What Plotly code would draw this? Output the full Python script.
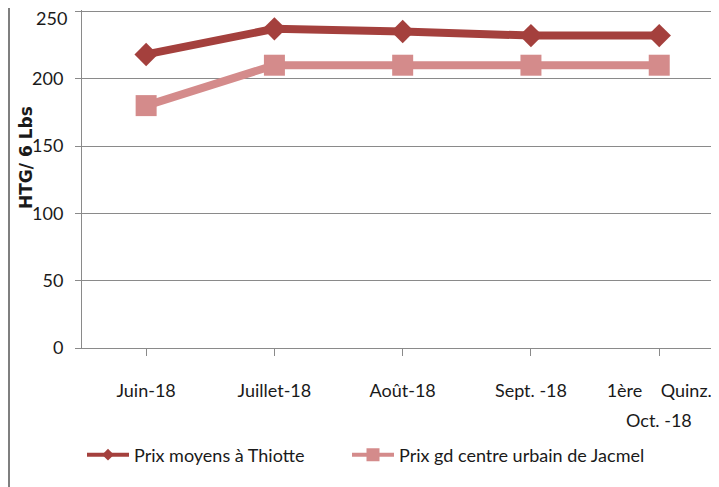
import plotly.graph_objects as go

# Data
mois = ["Juin-18", "Juillet-18", "Août-18", "Sept. -18",
        "1ère\u00a0\u00a0\u00a0\u00a0Quinz."]
mois_ligne2 = "Oct. -18"   # second line of the last category label
thiotte = [218, 237, 235, 232, 232]
jacmel = [180, 210, 210, 210, 210]
noms = ["Prix moyens à Thiotte", "Prix gd centre urbain de Jacmel"]
y_ticks = [0, 50, 100, 150, 200, 250]

# the page adds an 8px body margin, so the figure is drawn 8px smaller
W, H = 711, 479
ML, MR, MT, MB = 74, 0, 2, 139
PW, PH = W - ML - MR, H - MT - MB

FONT = "Lato, Liberation Sans Narrow, sans-serif"
GRID = "#8a8a8a"
ROUGE, ROSE = "#a4403d", "#d48b8b"

x = list(range(len(mois)))
fig = go.Figure()

fig.add_trace(go.Scatter(
    x=x, y=thiotte, name=noms[0], mode="lines+markers",
    line=dict(color=ROUGE, width=8),
    marker=dict(symbol="diamond", size=18, color=ROUGE),
    cliponaxis=False, showlegend=False
))
fig.add_trace(go.Scatter(
    x=x, y=jacmel, name=noms[1], mode="lines+markers",
    line=dict(color=ROSE, width=8),
    marker=dict(symbol="square", size=21, color=ROSE),
    cliponaxis=False, showlegend=False
))

# legend entries (smaller symbols, as in the original legend)
fig.add_trace(go.Scatter(
    x=[None], y=[None], name=noms[0], mode="lines+markers",
    line=dict(color=ROUGE, width=4),
    marker=dict(symbol="diamond", size=9, color=ROUGE),
    legend="legend"
))
fig.add_trace(go.Scatter(
    x=[None], y=[None], name=noms[1], mode="lines+markers",
    line=dict(color=ROSE, width=4),
    marker=dict(symbol="square", size=13, color=ROSE),
    legend="legend2"
))

leg = dict(orientation="h", yanchor="middle", xanchor="left",
           y=-107 / PH, bgcolor="rgba(0,0,0,0)", itemwidth=42,
           font=dict(family=FONT, size=18, color="#1a1a1a"))

fig.update_layout(
    width=W, height=H,
    margin=dict(l=ML, r=MR, t=MT, b=MB, autoexpand=False),
    paper_bgcolor="white", plot_bgcolor="white",
    font=dict(family=FONT, size=18, color="#1a1a1a"),
    legend=dict(leg, x=0.0),
    legend2=dict(leg, x=(353 - 6 - 82) / PW),
)

fig.update_xaxes(
    tickmode="array", tickvals=x, ticktext=mois,
    range=[-0.5, 4.466], automargin=False,
    showgrid=False, zeroline=False,
    showline=True, linecolor=GRID, linewidth=1,
    ticks="outside", tickson="boundaries", ticklen=7, tickcolor=GRID,
    ticklabelstandoff=19
)

# the top label would be cut by the page edge, so it is drawn separately
fig.update_yaxes(
    range=[0, 251], tickvals=y_ticks,
    ticktext=[str(v) for v in y_ticks[:-1]] + [""],
    automargin=False,
    showgrid=True, gridcolor=GRID, gridwidth=1,
    zeroline=False,
    showline=True, linecolor=GRID, linewidth=1,
    ticks="outside", ticklen=6, tickcolor=GRID,
    ticklabelstandoff=8
)
fig.add_annotation(
    text=str(y_ticks[-1]), xref="paper", yref="y",
    x=0, y=y_ticks[-1], xanchor="right", yanchor="middle",
    xshift=-13, yshift=-7, showarrow=False,
    font=dict(family=FONT, size=18, color="#1a1a1a")
)

# second line of the last category label
fig.add_annotation(
    text=mois_ligne2, xref="x", yref="paper",
    x=x[-1], y=-(412 - 340) / PH,
    xanchor="center", yanchor="middle", showarrow=False,
    font=dict(family=FONT, size=18, color="#1a1a1a")
)

# axis title, placed as in the original (offset upwards)
fig.add_annotation(
    text="<b>HTG/ 6 Lbs</b>", textangle=-90,
    xref="paper", yref="paper",
    x=(18 - ML) / PW, y=(340 - 149) / PH,
    xanchor="center", yanchor="middle",
    showarrow=False,
    font=dict(family="DejaVu Sans, sans-serif", size=17, color="#1a1a1a")
)

# frame line on the left edge of the picture
fig.add_shape(
    type="line", xref="paper", yref="paper",
    x0=(1 - ML) / PW, x1=(1 - ML) / PW,
    y0=-MB / PH, y1=1 + MT / PH,
    line=dict(color="#7f7f7f", width=2)
)

fig.write_html("out.html")
